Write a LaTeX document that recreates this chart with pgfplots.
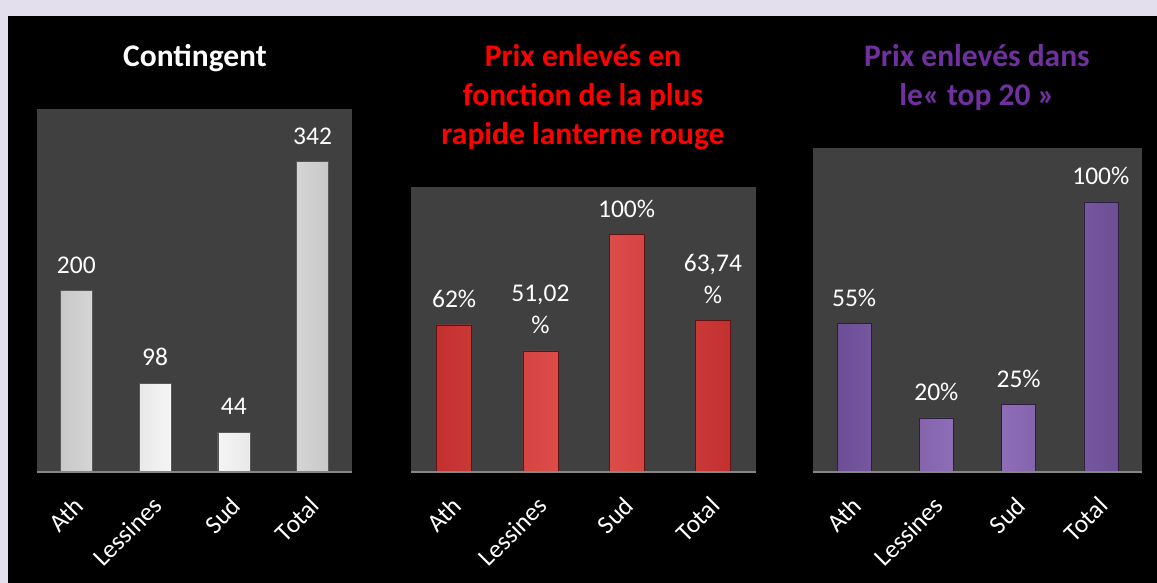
\documentclass[border=0pt]{standalone}
\usepackage{fontspec}
\setmainfont{Carlito}
\usepackage{pgfplots}
\pgfplotsset{compat=1.18}
\definecolor{lav}{HTML}{E4DFEC}
\definecolor{plotbg}{HTML}{404040}
\definecolor{baseln}{HTML}{868686}
\definecolor{titlered}{HTML}{FF0000}
\definecolor{titlepurple}{HTML}{7030A0}
\definecolor{redE}{HTML}{C2312F}
\definecolor{redM}{HTML}{E2524F}
\definecolor{redO}{HTML}{5E1312}
\definecolor{purE}{HTML}{6C4E95}
\definecolor{purM}{HTML}{9474BE}
\definecolor{purO}{HTML}{2C1F3E}
\definecolor{greyE}{HTML}{C8C8C8}
\newcommand\lab{\fontsize{25.5}{32}\selectfont}
\newcommand\ttl{\fontsize{31.5}{39}\selectfont\bfseries}
\pgfplotsset{panel/.style={
  scale only axis, anchor=south west,
  xmin=-0.5, xmax=3.5, ymin=0,
  axis x line=bottom, axis y line=none,
  x axis line style={draw=baseln, line width=2pt, -},
  axis background/.style={fill=plotbg},
  xtick={0,1,2,3}, xticklabels={Ath,Lessines,Sud,Total},
  major tick length=0pt,
  xticklabel style={font=\lab, text=white, inner sep=0pt, xshift=-4pt, yshift=-23pt, rotate=45, anchor=north east},
  ytick=\empty, axis on top, clip=false,
  point meta=explicit symbolic,
  nodes near coords={\pgfplotspointmeta},
  every node near coord/.append style={font=\lab, text=white, anchor=south, inner sep=0pt, yshift=17pt, align=center},
}}
\begin{document}
\begin{tikzpicture}
\fill[lav] (0pt,0pt) rectangle (1157pt,583pt);
\fill[black] (8pt,0pt) rectangle (1157pt,567pt);
\begin{axis}[panel, at={(37pt,111pt)}, width=315pt, height=363pt, ymax=400]
\addplot[ybar, bar width=32pt, draw=gray!70!black, left color=greyE, right color=greyE, middle color=white]
  coordinates {(0,200)[200] (1,98)[98] (2,44)[44] (3,342)[342]};
\end{axis}
\begin{axis}[panel, at={(411pt,111pt)}, width=345pt, height=285pt, ymax=120]
\addplot[ybar, bar width=35pt, draw=redO, left color=redE, right color=redE, middle color=redM]
  coordinates {(0,62)[62\%] (1,51.02)[51,02\\\%] (2,100)[100\%] (3,63.74)[63,74\\\%]};
\end{axis}
\begin{axis}[panel, at={(813pt,111pt)}, width=329pt, height=324pt, ymax=120]
\addplot[ybar, bar width=34pt, draw=purO, left color=purE, right color=purE, middle color=purM]
  coordinates {(0,55)[55\%] (1,20)[20\%] (2,25)[25\%] (3,100)[100\%]};
\end{axis}
\node[anchor=base, text=white, font=\ttl] at (195pt,516pt) {Contingent};
\node[anchor=base, text=titlered, font=\ttl] at (583pt,516pt) {Prix enlevés en};
\node[anchor=base, text=titlered, font=\ttl] at (583pt,477pt) {fonction de la plus};
\node[anchor=base, text=titlered, font=\ttl] at (583pt,438pt) {rapide lanterne rouge};
\node[anchor=base, text=titlepurple, font=\ttl] at (977pt,516pt) {Prix enlevés dans};
\node[anchor=base, text=titlepurple, font=\ttl] at (977pt,477pt) {le« top 20 »};
\pgfresetboundingbox
\useasboundingbox (0pt,0pt) rectangle (1157pt,583pt);
\end{tikzpicture}
\end{document}
